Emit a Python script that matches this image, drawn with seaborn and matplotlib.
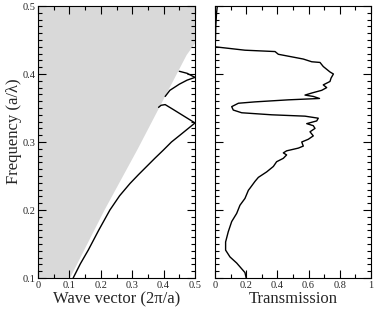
import numpy as np
import pandas as pd
import matplotlib
matplotlib.use("Agg")
import matplotlib.pyplot as plt
from matplotlib.ticker import MultipleLocator
import seaborn as sns

# ---- data ----
# light-cone edge (wave vector, frequency)
cone_k = [0.0, 0.102, 0.212, 0.318, 0.4735, 0.5]
cone_f = [0.007, 0.1, 0.2, 0.29, 0.428, 0.445]

# guided bands
band1_k = [0.112, 0.135, 0.160, 0.193, 0.229, 0.260, 0.293, 0.320, 0.346, 0.372, 0.399, 0.425, 0.452, 0.476, 0.5]
band1_f = [0.1, 0.121, 0.141, 0.170, 0.2, 0.221, 0.239, 0.252, 0.264, 0.276, 0.288, 0.300, 0.310, 0.319, 0.328]
band2_k = [0.384, 0.392, 0.405, 0.43, 0.5]
band2_f = [0.351, 0.354, 0.355, 0.348, 0.328]
band3_k = [0.405, 0.42, 0.45, 0.475, 0.5]
band3_f = [0.367, 0.376, 0.385, 0.391, 0.395]
band4_k = [0.45, 0.475, 0.5]
band4_f = [0.404, 0.401, 0.395]

# transmission spectrum
trans_f = [0.5, 0.49, 0.47, 0.45, 0.440, 0.435, 0.433, 0.429, 0.422, 0.418, 0.417,
           0.411, 0.403, 0.400, 0.394, 0.389, 0.384, 0.380, 0.376, 0.372, 0.369,
           0.367, 0.364, 0.362, 0.359, 0.357, 0.352, 0.347, 0.343, 0.340, 0.338,
           0.335, 0.331, 0.327, 0.324, 0.320, 0.315, 0.309, 0.304, 0.300, 0.294,
           0.291, 0.287, 0.284, 0.281, 0.276, 0.271, 0.264, 0.256, 0.248, 0.242,
           0.232, 0.229, 0.217, 0.207, 0.195, 0.183, 0.168, 0.153, 0.141, 0.131,
           0.122, 0.108, 0.1]
trans_T = [0.015, 0.01, 0.005, 0.003, 0.0, 0.192, 0.385, 0.406, 0.566, 0.62, 0.673,
           0.694, 0.737, 0.759, 0.744, 0.737, 0.694, 0.716, 0.684, 0.62, 0.577,
           0.630, 0.670, 0.47, 0.256, 0.15, 0.107, 0.117, 0.171, 0.363, 0.577,
           0.662, 0.652, 0.588, 0.630, 0.641, 0.609, 0.630, 0.598, 0.556, 0.566,
           0.534, 0.459, 0.438, 0.459, 0.438, 0.395, 0.374, 0.331, 0.278, 0.256,
           0.224, 0.214, 0.192, 0.160, 0.139, 0.107, 0.085, 0.068, 0.068, 0.096,
           0.139, 0.192, 0.2]

k_ticks = [0.0, 0.1, 0.2, 0.3, 0.4, 0.5]
k_labels = ["0", "0.1", "0.2", "0.3", "0.4", "0.5"]
f_ticks = [0.1, 0.2, 0.3, 0.4, 0.5]
f_labels = ["0.1", "0.2", "0.3", "0.4", "0.5"]
t_ticks = [0.0, 0.2, 0.4, 0.6, 0.8, 1.0]
t_labels = ["0", "0.2", "0.4", "0.6", "0.8", "1"]

sns.set_theme(style="ticks")
plt.rcParams['font.family'] = ['Liberation Serif', 'DejaVu Serif']

fig = plt.figure(figsize=(3.74, 3.09), dpi=100)
ax1 = fig.add_axes([38/374, 1-278/309, 157/374, 272/309])
ax2 = fig.add_axes([215/374, 1-278/309, 156/374, 272/309])

# light cone
ax1.fill_between(cone_k, cone_f, 0.6, color="#d9d9d9", linewidth=0, zorder=0)
for bk, bf in [(band1_k, band1_f), (band2_k, band2_f), (band3_k, band3_f), (band4_k, band4_f)]:
    sns.lineplot(x=bk, y=bf, ax=ax1, sort=False, color="black", linewidth=1.0, estimator=None)

sns.lineplot(x=trans_T, y=trans_f, ax=ax2, sort=False, color="black", linewidth=1.0, estimator=None)

ax1.set_xticks(k_ticks, k_labels)
ax1.set_yticks(f_ticks, f_labels)
ax2.set_xticks(t_ticks, t_labels)
ax2.set_yticks(f_ticks, [""] * len(f_ticks))
ax1.xaxis.set_minor_locator(MultipleLocator(0.05))
ax2.xaxis.set_minor_locator(MultipleLocator(0.1))

ax1.set_xlim(0, 0.5)
ax1.set_ylim(0.1, 0.5)
ax2.set_xlim(0, 1)
ax2.set_ylim(0.1, 0.5)

for ax in (ax1, ax2):
    ax.yaxis.set_minor_locator(MultipleLocator(0.01))
    ax.tick_params(which='both', direction='in', top=True, right=True, labelsize=7.5, pad=2, width=0.8, color='black')
    ax.tick_params(which='major', length=6)
    ax.tick_params(which='minor', length=3)
    for s in ax.spines.values():
        s.set_linewidth(0.8)
        s.set_color('black')

ax1.set_xlabel("Wave vector (2π/a)", fontsize=12, labelpad=1)
ax1.set_ylabel("Frequency (a/λ)", fontsize=12, labelpad=2)
ax1.yaxis.set_label_coords(-0.105, 0.54)
ax2.set_xlabel("Transmission", fontsize=12, labelpad=1)
ax2.set_ylabel("")

fig.savefig("out.png", dpi=100)
